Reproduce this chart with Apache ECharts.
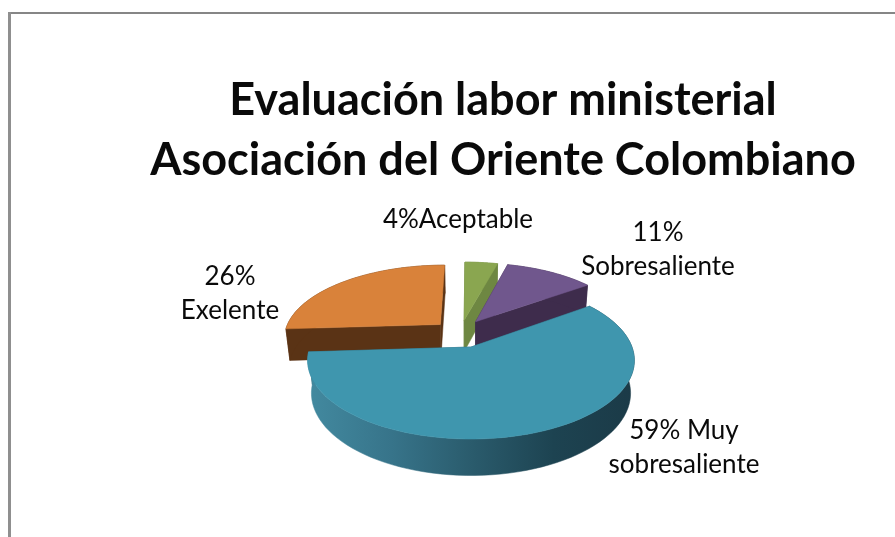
<!DOCTYPE html>
<html><head><meta charset="utf-8">
<style>html,body{margin:0;padding:0;background:#fff}#c{width:895px;height:537px}</style>
<script src="https://cdn.jsdelivr.net/npm/echarts@6/dist/echarts.min.js"></script>
</head><body><div id="c"></div>
<script>
const titleLines = ['Evaluación labor ministerial', 'Asociación del Oriente Colombiano'];
const categories = ['Aceptable', 'Sobresaliente', 'Muy sobresaliente', 'Exelente'];
const values = [4, 11, 59, 26];
const labelTexts = ['4%Aceptable', '11%\nSobresaliente', '59% Muy\nsobresaliente', '26%\nExelente'];

// presentation only
const topColors = ['#8aa650', '#70578d', '#3f96ae', '#d9823a'];
const wallColors = ['#6e8742', '#3e2c4c', '#2a5a6b', '#5a3315'];
const explode = [[-0.046, 0.37], [0.03, 0.35], [0, 0], [-0.2, 0.31]];
const labelAnchors = [[458, 220], [658, 250], [684, 448], [230, 294]];
const drawOrder = [3, 0, 1, 2];
const view = {cx: 471, cy: 347, B: 161, A: 76.4, D: 33.2, p: 0.17, q: 0.023};

const total = values.reduce((a, b) => a + b, 0);
const starts = [];
values.reduce((acc, v, i) => { starts[i] = acc; return acc + v; }, 0);

function project(X, Y, Z) {
  const w = 1 + view.p * Y + view.q * Z;
  return [view.cx + view.B * X / w, view.cy + (-view.A * Y + view.D * Z) / w];
}
function rim(i, a, Z) {
  return project(Math.sin(a) + explode[i][0], Math.cos(a) + explode[i][1], Z);
}
function hub(i, Z) { return project(explode[i][0], explode[i][1], Z); }
function arc(i, a0, a1, Z) {
  const pts = [], n = 80;
  for (let k = 0; k <= n; k++) pts.push(rim(i, a0 + (a1 - a0) * k / n, Z));
  return pts;
}
const poly = (points, fill, z2) => ({
  type: 'polygon', shape: {points}, z2,
  style: {fill, stroke: fill, lineWidth: 0.5}
});

function renderItem(params, api) {
  const i = api.value(0);
  const a0 = api.value(1) / total * 2 * Math.PI;
  const a1 = (api.value(1) + api.value(2)) / total * 2 * Math.PI;
  const base = drawOrder.indexOf(i) * 10;
  const wall = i === 2
    ? new echarts.graphic.LinearGradient(310, 0, 635, 0, [
        {offset: 0, color: '#42899f'},
        {offset: 0.25, color: '#37748a'},
        {offset: 0.5, color: '#2a5b6c'},
        {offset: 0.75, color: '#1d4351'},
        {offset: 1, color: '#1b3a47'}
      ], true)
    : wallColors[i];
  const cut = wallColors[i];
  const children = [
    poly([hub(i, 0), rim(i, a0, 0), rim(i, a0, 1), hub(i, 1)], cut, base),
    poly([hub(i, 0), rim(i, a1, 0), rim(i, a1, 1), hub(i, 1)], cut, base + 1),
    poly(arc(i, a0, a1, 0).concat(arc(i, a0, a1, 1).reverse()), wall, base + 2),
    poly([hub(i, 0)].concat(arc(i, a0, a1, 0)), topColors[i], base + 3),
    {
      type: 'text', z2: 100,
      style: {
        x: labelAnchors[i][0], y: labelAnchors[i][1],
        text: labelTexts[i], align: 'center', verticalAlign: 'middle',
        font: '26px Lato', lineHeight: 34, fill: '#0a0a0a'
      }
    }
  ];
  return {type: 'group', children};
}

const chart = echarts.init(document.getElementById('c'), null, {renderer: 'canvas'});
chart.setOption({
  animation: false,
  backgroundColor: '#fff',
  title: {
    text: titleLines.join('\n'),
    left: 498, top: 65, textAlign: 'center',
    textStyle: {fontFamily: 'Lato', fontWeight: 'bold', fontSize: 45, lineHeight: 60, color: '#0a0a0a'}
  },
  graphic: [
    {type: 'rect', shape: {x: 8, y: 12, width: 887, height: 2}, style: {fill: '#868686'}},
    {type: 'rect', shape: {x: 8, y: 12, width: 3, height: 525}, style: {fill: '#8f8f8f'}}
  ],
  series: [{
    type: 'custom',
    coordinateSystem: 'none',
    renderItem,
    encode: {itemName: 3},
    data: categories.map((name, i) => [i, starts[i], values[i], name])
  }]
});
</script></body></html>
